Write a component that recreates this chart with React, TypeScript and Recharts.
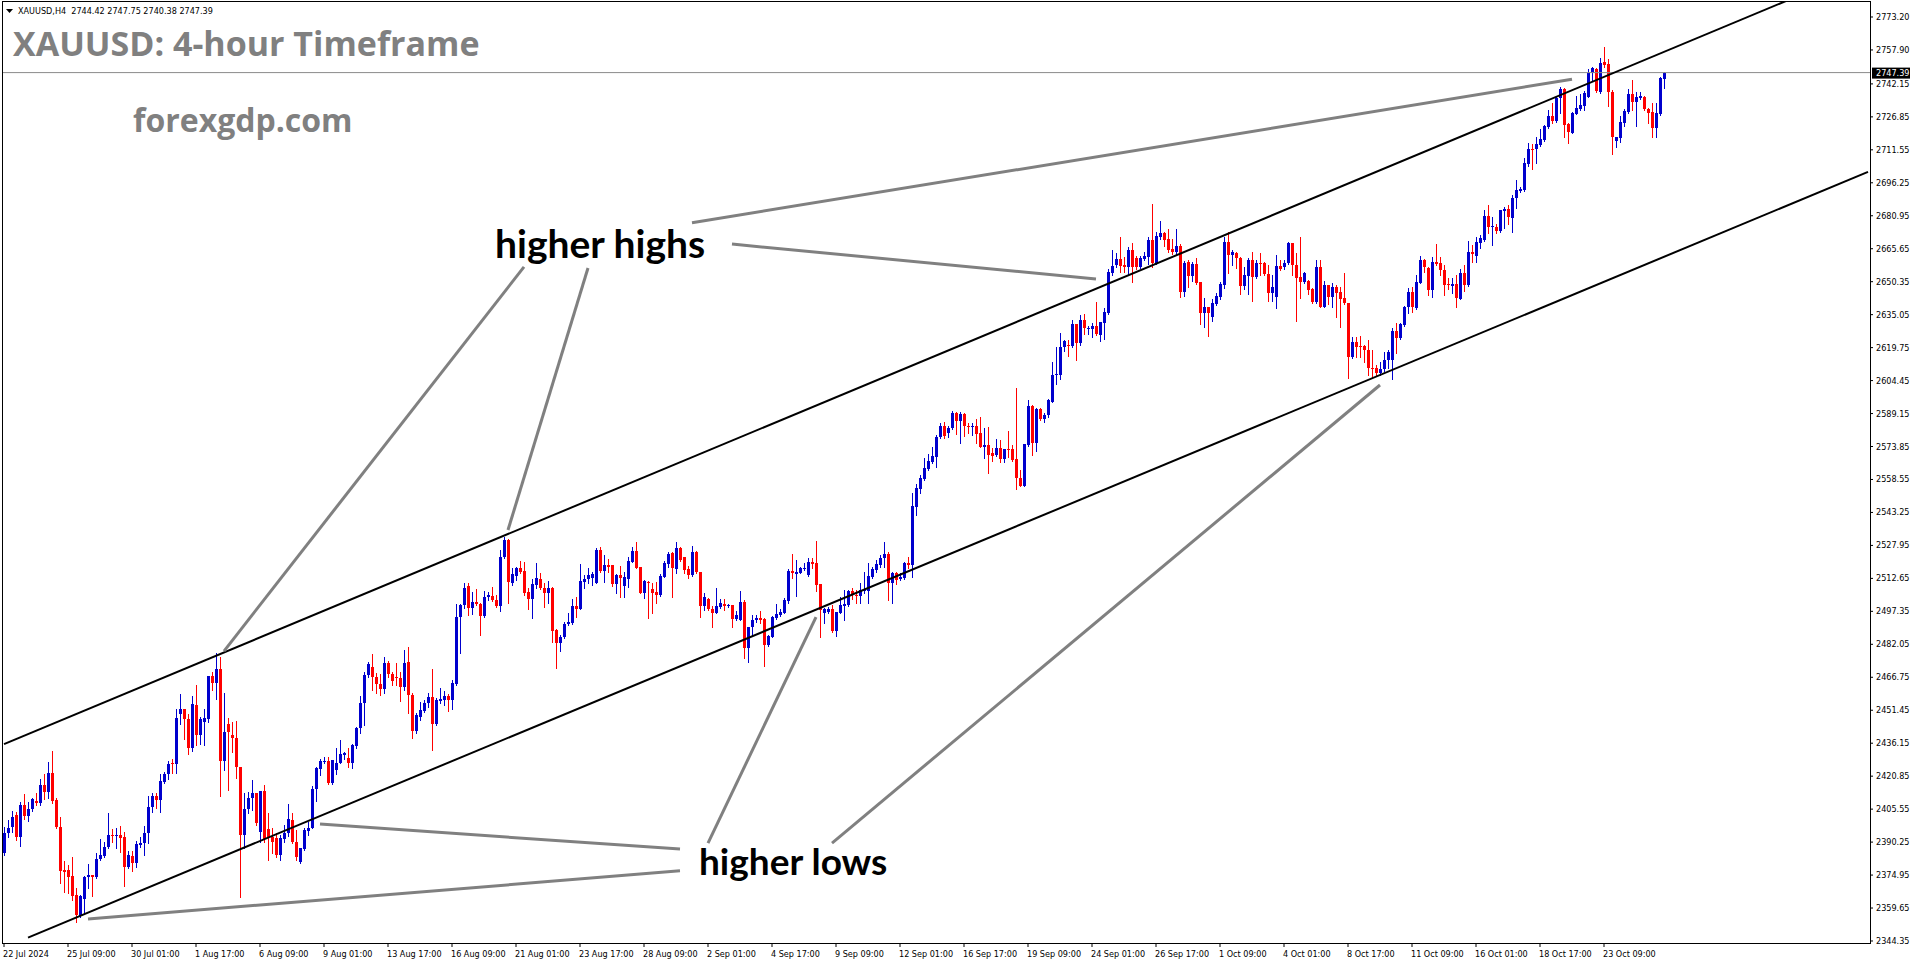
import React from 'react';
import { ComposedChart, Bar, XAxis, YAxis, ReferenceLine } from 'recharts';

// H4 candles, oldest first (22 Jul → 24 Oct 2024)
const OPENS = [
  2385.0, 2394.6, 2397.4, 2402.8, 2392.8, 2407.5, 2402.4, 2405.5, 2409.3, 2408.6,
  2416.8, 2413.7, 2422.2, 2409.8, 2397.1, 2377.3, 2377.3, 2374.5, 2365.7, 2356.0,
  2363.9, 2374.2, 2375.0, 2374.2, 2382.3, 2383.8, 2388.1, 2393.6, 2393.1, 2393.6,
  2392.8, 2378.9, 2383.8, 2380.4, 2388.9, 2389.7, 2394.3, 2406.4, 2411.7, 2409.8,
  2418.3, 2421.9, 2426.8, 2426.4, 2449.6, 2451.9, 2447.6, 2433.8, 2453.9, 2440.0,
  2446.2, 2447.2, 2467.4, 2464.3, 2470.5, 2428.1, 2445.1, 2440.0, 2438.4, 2425.0,
  2393.6, 2405.5, 2410.6, 2413.2, 2395.1, 2414.0, 2396.2, 2392.8, 2392.0, 2384.3,
  2391.7, 2394.3, 2400.5, 2390.5, 2381.2, 2386.9, 2395.6, 2396.7, 2414.8, 2424.0,
  2427.4, 2428.1, 2417.5, 2423.7, 2427.1, 2430.7, 2429.1, 2426.8, 2434.9, 2443.1,
  2454.7, 2467.8, 2471.7, 2467.1, 2463.5, 2461.2, 2473.5, 2468.3, 2467.1, 2466.3,
  2462.4, 2474.0, 2458.5, 2442.0, 2448.2, 2451.3, 2454.7, 2457.5, 2444.9, 2455.9,
  2456.2, 2458.1, 2456.1, 2463.7, 2494.9, 2500.3, 2509.1, 2498.8, 2501.9, 2500.8,
  2495.4, 2503.9, 2504.5, 2502.6, 2499.8, 2522.4, 2530.5, 2510.7, 2513.8, 2517.3,
  2516.1, 2506.5, 2503.1, 2509.6, 2512.4, 2508.0, 2506.0, 2508.0, 2488.7, 2482.8,
  2485.3, 2491.3, 2492.1, 2499.8, 2498.6, 2511.1, 2512.2, 2512.7, 2510.7, 2525.8,
  2516.1, 2518.9, 2518.9, 2510.0, 2514.2, 2509.1, 2512.4, 2520.4, 2525.5, 2518.1,
  2506.0, 2511.1, 2507.6, 2506.5, 2505.0, 2513.5, 2519.2, 2524.3, 2517.0, 2526.9,
  2522.4, 2516.9, 2514.2, 2525.1, 2515.8, 2499.8, 2503.1, 2498.3, 2496.4, 2499.5,
  2500.6, 2499.8, 2500.3, 2493.8, 2493.3, 2501.8, 2480.2, 2489.9, 2493.3, 2494.1,
  2493.8, 2481.7, 2485.6, 2494.4, 2495.7, 2496.7, 2502.3, 2516.1, 2514.7, 2515.3,
  2516.9, 2514.2, 2520.4, 2519.6, 2510.0, 2496.4, 2497.1, 2498.3, 2488.4, 2496.7,
  2500.0, 2500.3, 2506.9, 2504.9, 2504.5, 2506.9, 2506.9, 2513.1, 2516.5, 2518.9,
  2522.0, 2524.0, 2510.4, 2515.0, 2512.2, 2513.0, 2519.9, 2518.9, 2546.0, 2554.1,
  2558.8, 2563.3, 2566.7, 2569.1, 2578.1, 2583.4, 2580.0, 2582.3, 2589.6, 2585.7,
  2589.0, 2583.4, 2582.8, 2583.4, 2580.0, 2573.8, 2574.6, 2570.7, 2569.9, 2573.0,
  2568.1, 2572.9, 2572.7, 2567.9, 2559.4, 2555.5, 2574.6, 2592.7, 2575.3, 2591.1,
  2586.5, 2588.5, 2594.7, 2606.9, 2607.0, 2619.9, 2620.9, 2620.7, 2630.7, 2622.0,
  2632.6, 2628.5, 2628.4, 2629.9, 2625.6, 2631.3, 2636.0, 2654.6, 2658.1, 2660.7,
  2658.1, 2657.0, 2665.1, 2661.2, 2657.0, 2661.0, 2662.0, 2669.7, 2659.2, 2671.2,
  2673.1, 2670.0, 2665.5, 2664.3, 2666.9, 2645.7, 2659.6, 2653.0, 2658.6, 2650.4,
  2636.0, 2638.8, 2634.1, 2640.0, 2643.1, 2648.8, 2668.9, 2662.7, 2663.5, 2661.5,
  2648.4, 2653.0, 2660.4, 2652.7, 2659.2, 2659.2, 2653.9, 2645.3, 2643.1, 2657.6,
  2657.0, 2658.9, 2668.5, 2658.1, 2652.7, 2650.4, 2650.8, 2647.0, 2641.1, 2657.3,
  2638.8, 2648.8, 2643.1, 2648.0, 2645.7, 2642.6, 2640.6, 2615.2, 2622.4, 2620.5,
  2620.5, 2618.6, 2610.5, 2610.2, 2607.8, 2609.7, 2614.0, 2614.0, 2627.6, 2624.1,
  2630.3, 2638.5, 2645.7, 2638.0, 2649.9, 2660.4, 2656.6, 2646.5, 2659.7, 2658.9,
  2655.8, 2649.3, 2648.4, 2649.3, 2642.2, 2654.2, 2648.8, 2664.3, 2662.3, 2668.5,
  2669.7, 2680.8, 2675.6, 2675.9, 2674.0, 2683.3, 2683.9, 2680.1, 2689.0, 2692.5,
  2692.9, 2705.0, 2712.1, 2711.8, 2713.8, 2716.1, 2722.0, 2727.2, 2725.1, 2735.5,
  2739.6, 2723.5, 2719.5, 2728.2, 2730.4, 2731.9, 2736.2, 2747.4, 2748.9, 2738.5,
  2752.3, 2751.2, 2738.5, 2715.8, 2716.9, 2724.2, 2729.3, 2737.3, 2733.9, 2735.8,
  2736.2, 2730.5, 2729.3, 2721.5, 2728.0, 2744.42,
];

const HIGHS = [
  2397.4, 2400.5, 2404.7, 2404.4, 2409.0, 2412.6, 2409.0, 2410.9, 2412.9, 2419.4,
  2421.7, 2427.6, 2432.6, 2410.6, 2401.8, 2381.6, 2379.6, 2383.2, 2368.8, 2365.7,
  2374.5, 2380.1, 2375.0, 2385.0, 2391.6, 2390.5, 2403.9, 2396.2, 2396.7, 2397.7,
  2395.1, 2386.1, 2386.1, 2390.9, 2392.5, 2397.7, 2411.7, 2413.2, 2413.2, 2421.9,
  2423.0, 2428.1, 2428.7, 2451.9, 2459.0, 2451.9, 2449.6, 2458.1, 2463.2, 2448.5,
  2451.9, 2467.4, 2469.4, 2477.9, 2476.0, 2459.6, 2447.7, 2446.2, 2446.5, 2425.0,
  2413.2, 2413.7, 2419.1, 2413.2, 2414.0, 2416.8, 2403.6, 2396.7, 2394.3, 2393.6,
  2398.2, 2407.9, 2403.6, 2395.9, 2387.4, 2396.7, 2399.8, 2416.3, 2425.3, 2428.7,
  2429.6, 2429.6, 2428.4, 2433.8, 2437.7, 2432.2, 2433.8, 2435.8, 2443.5, 2458.1,
  2469.4, 2474.0, 2477.6, 2468.6, 2468.3, 2476.3, 2474.5, 2469.4, 2473.5, 2469.4,
  2479.4, 2480.7, 2459.3, 2450.0, 2455.4, 2456.2, 2459.6, 2470.6, 2457.0, 2461.6,
  2460.6, 2459.0, 2465.5, 2500.8, 2500.8, 2510.4, 2510.4, 2506.5, 2507.6, 2501.1,
  2507.0, 2506.5, 2508.5, 2505.0, 2525.8, 2532.0, 2530.8, 2517.3, 2518.1, 2520.7,
  2520.4, 2508.0, 2512.2, 2519.9, 2515.3, 2510.7, 2511.4, 2508.5, 2489.0, 2486.3,
  2492.6, 2496.4, 2502.9, 2504.2, 2519.2, 2514.2, 2517.6, 2515.8, 2526.6, 2527.4,
  2523.5, 2521.5, 2518.9, 2514.7, 2518.4, 2515.8, 2522.7, 2527.4, 2529.4, 2518.1,
  2511.9, 2511.4, 2510.7, 2511.1, 2514.7, 2520.7, 2524.7, 2525.1, 2529.4, 2527.4,
  2522.7, 2518.4, 2527.8, 2525.4, 2515.8, 2505.7, 2503.4, 2499.8, 2508.0, 2502.9,
  2503.1, 2500.8, 2500.3, 2497.7, 2506.9, 2502.6, 2490.2, 2495.7, 2495.7, 2497.7,
  2494.1, 2486.4, 2495.2, 2500.8, 2498.3, 2503.4, 2516.8, 2524.0, 2521.2, 2518.1,
  2519.9, 2522.3, 2522.3, 2530.0, 2510.0, 2498.8, 2499.2, 2500.3, 2497.2, 2504.2,
  2507.3, 2507.3, 2508.0, 2507.3, 2510.4, 2515.8, 2519.6, 2518.1, 2521.2, 2523.5,
  2529.4, 2524.7, 2515.8, 2515.8, 2515.0, 2520.4, 2522.7, 2552.1, 2556.3, 2560.6,
  2568.4, 2570.4, 2573.8, 2579.2, 2584.6, 2585.4, 2583.4, 2590.3, 2590.0, 2590.0,
  2589.6, 2584.6, 2584.9, 2586.5, 2587.4, 2582.3, 2582.8, 2573.0, 2577.2, 2576.9,
  2572.6, 2581.2, 2574.6, 2600.9, 2562.9, 2574.9, 2595.5, 2593.1, 2591.6, 2591.6,
  2589.3, 2595.9, 2613.2, 2620.2, 2626.4, 2623.3, 2623.3, 2632.6, 2630.7, 2634.9,
  2635.2, 2629.8, 2631.0, 2640.9, 2631.6, 2638.0, 2656.1, 2665.1, 2663.5, 2671.2,
  2662.0, 2666.6, 2668.5, 2662.3, 2662.3, 2664.3, 2671.2, 2686.4, 2673.6, 2678.5,
  2673.6, 2674.7, 2670.0, 2674.7, 2667.9, 2660.0, 2660.4, 2659.6, 2661.2, 2650.4,
  2642.6, 2638.8, 2642.2, 2645.0, 2650.4, 2671.3, 2673.6, 2665.1, 2664.0, 2662.0,
  2657.0, 2661.5, 2664.3, 2660.4, 2663.8, 2659.6, 2658.1, 2653.5, 2662.7, 2660.4,
  2660.4, 2668.9, 2668.5, 2663.5, 2671.3, 2655.0, 2651.1, 2647.3, 2660.4, 2660.4,
  2650.8, 2648.8, 2649.6, 2648.8, 2647.7, 2654.2, 2640.6, 2624.5, 2624.8, 2625.2,
  2621.0, 2623.3, 2618.6, 2611.7, 2613.2, 2617.9, 2618.6, 2628.7, 2631.0, 2631.0,
  2639.1, 2647.3, 2648.0, 2653.5, 2662.3, 2660.7, 2657.0, 2661.7, 2667.7, 2662.0,
  2658.1, 2651.9, 2651.9, 2653.5, 2656.1, 2658.1, 2669.4, 2667.4, 2671.3, 2672.0,
  2683.6, 2685.9, 2680.5, 2677.1, 2683.6, 2685.2, 2685.9, 2690.6, 2697.5, 2694.1,
  2707.6, 2714.9, 2714.3, 2717.7, 2721.1, 2723.1, 2730.0, 2733.1, 2736.2, 2740.9,
  2740.1, 2723.8, 2729.3, 2736.5, 2737.5, 2739.0, 2748.9, 2749.8, 2749.4, 2754.0,
  2759.4, 2753.6, 2739.3, 2717.7, 2727.2, 2730.4, 2739.6, 2743.9, 2738.5, 2738.5,
  2736.5, 2731.1, 2733.4, 2733.1, 2745.2, 2747.75,
];

const LOWS = [
  2384.3, 2392.8, 2395.1, 2391.3, 2388.4, 2400.8, 2400.2, 2404.9, 2407.5, 2407.5,
  2410.1, 2410.9, 2408.6, 2396.7, 2371.1, 2367.3, 2366.5, 2363.4, 2353.3, 2355.7,
  2357.2, 2368.8, 2365.3, 2373.4, 2382.0, 2383.2, 2387.4, 2390.5, 2387.4, 2385.8,
  2370.0, 2378.1, 2377.0, 2378.9, 2388.1, 2384.3, 2389.7, 2404.4, 2405.9, 2404.4,
  2417.5, 2419.4, 2422.2, 2422.2, 2445.1, 2438.0, 2431.0, 2432.6, 2435.3, 2435.6,
  2435.3, 2446.2, 2460.9, 2456.5, 2411.7, 2423.7, 2414.5, 2432.2, 2419.9, 2365.0,
  2387.4, 2403.6, 2405.2, 2398.2, 2390.5, 2390.5, 2382.0, 2385.1, 2383.5, 2382.0,
  2390.5, 2393.1, 2390.0, 2382.0, 2380.4, 2386.6, 2393.6, 2396.7, 2409.5, 2421.4,
  2426.8, 2417.2, 2417.2, 2421.9, 2426.8, 2428.7, 2425.0, 2424.5, 2434.1, 2440.8,
  2444.6, 2467.1, 2460.9, 2459.3, 2458.5, 2459.3, 2467.1, 2463.2, 2463.2, 2455.8,
  2460.9, 2450.0, 2438.4, 2441.1, 2447.0, 2450.8, 2453.1, 2433.0, 2444.6, 2455.0,
  2453.9, 2451.3, 2451.9, 2463.2, 2477.9, 2498.8, 2495.7, 2496.1, 2500.3, 2486.4,
  2494.9, 2502.6, 2502.2, 2499.5, 2497.7, 2522.0, 2501.4, 2509.6, 2511.9, 2515.3,
  2505.0, 2498.4, 2494.4, 2508.0, 2507.6, 2499.5, 2501.4, 2483.3, 2471.2, 2479.1,
  2485.1, 2491.0, 2491.5, 2494.9, 2498.3, 2508.3, 2510.4, 2509.6, 2510.4, 2515.8,
  2510.8, 2515.8, 2509.1, 2506.0, 2503.9, 2504.2, 2508.5, 2520.1, 2517.3, 2505.7,
  2503.7, 2494.1, 2496.7, 2501.1, 2504.6, 2513.2, 2518.1, 2504.2, 2515.0, 2520.9,
  2515.3, 2512.7, 2513.8, 2515.3, 2494.6, 2498.0, 2498.0, 2490.2, 2496.4, 2498.8,
  2498.0, 2499.2, 2490.2, 2493.3, 2493.3, 2475.9, 2474.0, 2486.4, 2492.6, 2492.1,
  2472.2, 2481.4, 2485.3, 2493.6, 2495.2, 2496.4, 2501.1, 2513.0, 2504.5, 2515.0,
  2516.5, 2513.8, 2517.3, 2506.9, 2485.6, 2491.8, 2496.4, 2487.9, 2486.1, 2496.4,
  2493.3, 2499.8, 2502.9, 2501.4, 2501.4, 2505.7, 2501.4, 2512.7, 2515.8, 2518.1,
  2518.1, 2502.6, 2501.4, 2510.0, 2511.9, 2512.2, 2517.3, 2513.5, 2542.1, 2552.1,
  2558.3, 2562.9, 2566.4, 2564.2, 2577.7, 2577.7, 2578.1, 2581.8, 2579.7, 2575.6,
  2578.7, 2580.0, 2579.2, 2575.3, 2573.8, 2568.7, 2561.4, 2567.3, 2569.5, 2566.8,
  2566.8, 2568.8, 2567.3, 2554.0, 2555.5, 2555.5, 2574.1, 2569.9, 2571.8, 2586.2,
  2585.4, 2587.7, 2594.7, 2602.9, 2605.2, 2618.3, 2616.0, 2620.2, 2614.0, 2621.0,
  2626.1, 2626.1, 2624.5, 2625.6, 2623.0, 2623.6, 2635.4, 2653.5, 2657.0, 2655.0,
  2655.0, 2653.9, 2650.4, 2656.1, 2656.6, 2660.4, 2658.6, 2657.0, 2658.6, 2670.0,
  2666.9, 2664.3, 2663.2, 2663.2, 2643.4, 2643.7, 2647.7, 2650.8, 2649.3, 2630.7,
  2629.5, 2625.1, 2632.1, 2639.5, 2642.2, 2647.3, 2654.2, 2658.1, 2656.6, 2644.6,
  2646.8, 2644.5, 2641.5, 2651.9, 2653.5, 2653.5, 2641.5, 2641.5, 2638.3, 2655.8,
  2656.1, 2658.6, 2653.5, 2632.3, 2642.6, 2649.9, 2644.6, 2640.6, 2640.6, 2638.5,
  2638.5, 2640.0, 2638.5, 2634.1, 2629.2, 2640.0, 2605.5, 2614.8, 2615.6, 2615.2,
  2613.2, 2607.0, 2606.3, 2607.0, 2607.0, 2609.1, 2610.2, 2605.0, 2617.1, 2623.6,
  2630.0, 2635.7, 2636.4, 2637.5, 2649.6, 2655.0, 2644.2, 2643.4, 2658.1, 2653.5,
  2644.2, 2646.8, 2645.0, 2638.5, 2642.2, 2646.2, 2648.4, 2659.6, 2659.6, 2665.9,
  2669.4, 2672.8, 2667.4, 2672.8, 2673.6, 2675.1, 2677.1, 2673.6, 2684.4, 2692.1,
  2692.6, 2704.1, 2702.5, 2705.3, 2713.3, 2715.8, 2721.5, 2724.2, 2724.6, 2728.5,
  2717.4, 2714.6, 2719.5, 2728.0, 2730.0, 2730.0, 2736.2, 2743.9, 2738.5, 2738.1,
  2750.2, 2731.9, 2709.6, 2712.7, 2715.3, 2722.6, 2728.8, 2730.0, 2722.6, 2735.0,
  2730.0, 2724.2, 2717.7, 2717.7, 2727.7, 2740.38,
];

const CLOSES = [
  2394.3, 2396.7, 2401.8, 2392.8, 2407.5, 2402.4, 2405.5, 2410.1, 2408.6, 2416.8,
  2413.7, 2422.2, 2409.3, 2397.1, 2377.0, 2376.6, 2374.2, 2365.3, 2356.4, 2365.3,
  2374.2, 2375.0, 2374.2, 2382.4, 2384.3, 2388.1, 2393.6, 2393.1, 2393.6, 2392.3,
  2378.9, 2384.3, 2380.4, 2389.4, 2390.0, 2394.3, 2406.4, 2411.7, 2409.8, 2418.6,
  2421.9, 2426.5, 2426.4, 2447.7, 2451.9, 2447.6, 2433.8, 2454.2, 2440.0, 2447.2,
  2448.0, 2467.4, 2464.3, 2470.5, 2428.1, 2441.5, 2441.5, 2438.4, 2425.0, 2393.6,
  2405.5, 2410.6, 2412.9, 2399.0, 2414.0, 2391.6, 2392.0, 2390.5, 2384.3, 2392.0,
  2394.3, 2400.8, 2390.5, 2383.2, 2387.4, 2395.9, 2396.7, 2414.8, 2424.5, 2428.1,
  2428.1, 2417.5, 2428.4, 2427.1, 2431.0, 2431.5, 2426.8, 2435.2, 2443.1, 2455.0,
  2467.8, 2472.9, 2466.7, 2463.5, 2461.2, 2473.5, 2468.3, 2465.2, 2466.3, 2462.4,
  2473.5, 2458.5, 2442.0, 2449.3, 2451.6, 2455.0, 2457.5, 2444.9, 2456.2, 2456.5,
  2458.1, 2456.1, 2464.3, 2494.9, 2500.3, 2508.0, 2498.8, 2501.9, 2500.8, 2495.4,
  2503.9, 2505.0, 2502.6, 2499.8, 2522.4, 2530.5, 2511.1, 2514.7, 2517.3, 2515.8,
  2506.0, 2503.1, 2510.0, 2512.7, 2508.0, 2506.0, 2508.0, 2488.4, 2482.8, 2485.6,
  2491.5, 2492.6, 2499.8, 2498.6, 2511.4, 2512.4, 2514.1, 2514.7, 2525.8, 2516.1,
  2518.9, 2518.1, 2510.0, 2514.2, 2512.7, 2513.5, 2520.9, 2525.5, 2517.6, 2506.0,
  2511.4, 2510.8, 2506.0, 2505.0, 2513.8, 2519.6, 2523.8, 2517.3, 2526.9, 2521.2,
  2516.5, 2514.2, 2525.1, 2515.5, 2499.8, 2504.2, 2498.3, 2496.7, 2499.8, 2501.1,
  2499.8, 2500.3, 2493.8, 2495.7, 2501.8, 2480.5, 2490.2, 2493.3, 2494.4, 2493.3,
  2481.7, 2485.9, 2494.6, 2496.1, 2496.9, 2502.6, 2516.1, 2515.3, 2515.5, 2517.3,
  2517.6, 2520.4, 2519.3, 2509.6, 2498.0, 2498.3, 2498.6, 2488.2, 2497.2, 2500.3,
  2500.8, 2506.8, 2504.9, 2504.5, 2507.3, 2507.7, 2513.8, 2516.8, 2519.2, 2522.0,
  2524.0, 2510.4, 2515.0, 2511.9, 2513.5, 2519.9, 2518.9, 2546.3, 2554.8, 2559.1,
  2563.7, 2567.1, 2569.5, 2578.1, 2583.4, 2578.7, 2582.6, 2589.6, 2585.7, 2589.0,
  2583.4, 2582.8, 2583.4, 2579.7, 2573.8, 2574.6, 2569.9, 2569.5, 2573.0, 2568.1,
  2572.6, 2572.6, 2567.6, 2559.4, 2555.5, 2574.9, 2592.7, 2575.3, 2591.1, 2586.5,
  2588.5, 2595.5, 2607.0, 2607.5, 2620.2, 2622.8, 2620.7, 2630.7, 2622.0, 2632.6,
  2628.7, 2629.0, 2629.9, 2625.9, 2631.6, 2636.1, 2655.0, 2657.6, 2660.7, 2657.6,
  2657.0, 2665.1, 2657.0, 2657.0, 2661.2, 2662.3, 2669.7, 2659.2, 2671.6, 2673.1,
  2669.7, 2665.1, 2664.3, 2666.9, 2645.7, 2658.9, 2653.0, 2658.6, 2649.9, 2636.0,
  2638.5, 2636.0, 2640.3, 2643.7, 2649.3, 2668.9, 2662.7, 2664.3, 2661.2, 2648.4,
  2653.5, 2660.4, 2652.7, 2659.2, 2658.6, 2653.9, 2645.3, 2647.7, 2657.6, 2656.1,
  2659.2, 2668.5, 2658.1, 2652.2, 2650.4, 2654.5, 2646.5, 2641.1, 2657.3, 2638.8,
  2648.8, 2643.1, 2648.0, 2645.3, 2642.2, 2640.6, 2615.2, 2622.4, 2620.2, 2620.2,
  2618.6, 2610.2, 2609.7, 2608.1, 2609.7, 2614.0, 2617.9, 2627.6, 2624.1, 2630.6,
  2638.8, 2645.7, 2638.5, 2650.4, 2660.4, 2657.0, 2646.5, 2659.7, 2658.6, 2655.8,
  2648.8, 2648.8, 2649.3, 2642.6, 2654.2, 2648.8, 2664.3, 2663.1, 2668.9, 2670.5,
  2680.8, 2675.6, 2676.2, 2674.0, 2683.6, 2683.9, 2680.2, 2689.0, 2692.9, 2693.4,
  2705.3, 2711.8, 2711.8, 2714.1, 2716.4, 2722.6, 2727.2, 2725.1, 2735.5, 2739.6,
  2723.1, 2720.0, 2728.5, 2730.8, 2732.4, 2737.8, 2747.4, 2749.4, 2739.0, 2752.0,
  2751.1, 2738.5, 2717.4, 2717.7, 2724.6, 2729.7, 2737.3, 2733.9, 2736.2, 2736.5,
  2730.4, 2728.8, 2721.5, 2728.8, 2744.7, 2747.39,
];

// the chart is shifted: empty bar slots remain on the right
const SLOT_COUNT = 467;

const DATE_SLOTS = [0, 16, 32, 48, 64, 80, 96, 112, 128, 144, 160, 176, 192, 208, 224, 240, 256, 272, 288, 304, 320, 336, 352, 368, 384, 400];
const DATE_LABELS = [
  '22 Jul 2024', '25 Jul 09:00', '30 Jul 01:00', '1 Aug 17:00', '6 Aug 09:00', '9 Aug 01:00',
  '13 Aug 17:00', '16 Aug 09:00', '21 Aug 01:00', '23 Aug 17:00', '28 Aug 09:00', '2 Sep 01:00',
  '4 Sep 17:00', '9 Sep 09:00', '12 Sep 01:00', '16 Sep 17:00', '19 Sep 09:00', '24 Sep 01:00',
  '26 Sep 17:00', '1 Oct 09:00', '4 Oct 01:00', '8 Oct 17:00', '11 Oct 09:00', '16 Oct 01:00',
  '18 Oct 17:00', '23 Oct 09:00',
];

const PRICE_TICKS = [
  2773.2, 2757.9, 2742.15, 2726.85, 2711.55, 2696.25, 2680.95, 2665.65, 2650.35, 2635.05,
  2619.75, 2604.45, 2589.15, 2573.85, 2558.55, 2543.25, 2527.95, 2512.65, 2497.35, 2482.05,
  2466.75, 2451.45, 2436.15, 2420.85, 2405.55, 2390.25, 2374.95, 2359.65, 2344.35,
];

const LAST_PRICE = 2747.39;
const HEADER = 'XAUUSD,H4  2744.42 2747.75 2740.38 2747.39';

// [slot, price] end points of the drawn trend channel
const CHANNEL_LINES = [
  [[0, 2435.7], [450, 2784.1]],
  [[6, 2345.95], [466, 2701.3]],
];

// [slot, price] end points of the pointer lines from the two captions
const POINTER_LINES = [
  [[172, 2677.7], [392, 2744.3]],
  [[182, 2667.8], [273, 2651.6]],
  [[130, 2657.2], [55, 2478.9]],
  [[146, 2656.7], [126, 2535.1]],
  [[169, 2387.0], [79, 2398.6]],
  [[169, 2376.9], [21, 2354.6]],
  [[176, 2389.8], [203, 2494.7]],
  [[207, 2389.8], [344, 2602.4]],
];

const BULL = '#0000cd';
const BEAR = '#ff0000';
const AXIS_FONT = '"DejaVu Sans Condensed", "DejaVu Sans", sans-serif';

const chartData = Array.from({ length: SLOT_COUNT }, (_, i) =>
  i < CLOSES.length
    ? { i, open: OPENS[i], high: HIGHS[i], low: LOWS[i], close: CLOSES[i], range: [LOWS[i], HIGHS[i]] }
    : { i }
);

const Candle = (props: any) => {
  const { x, y, width, height, payload } = props;
  if (!payload || payload.open == null) return null;
  const top = Math.min(y, y + height);
  const span = Math.abs(height);
  const spread = payload.high - payload.low;
  const toY = (v: number) => top + (spread > 0 ? ((payload.high - v) / spread) * span : 0);
  const color = payload.close >= payload.open ? BULL : BEAR;
  const cx = Math.round(x + width / 2);
  const yHigh = Math.round(toY(payload.high));
  const yLow = Math.round(toY(payload.low));
  const bodyTop = Math.round(toY(Math.max(payload.open, payload.close)));
  const bodyBottom = Math.round(toY(Math.min(payload.open, payload.close)));
  return (
    <g>
      <rect x={cx} y={yHigh} width={1} height={yLow - yHigh + 1} fill={color} />
      <rect x={cx - 1} y={bodyTop} width={3} height={Math.max(1, bodyBottom - bodyTop)} fill={color} />
    </g>
  );
};

const DateTick = ({ x, y, payload }: any) => (
  <text x={x - 1} y={y + 8} fontSize={9} fontFamily={AXIS_FONT} fill="#000" textAnchor="start">
    {DATE_LABELS[DATE_SLOTS.indexOf(payload.value)]}
  </text>
);

const PriceTick = ({ x, y, payload }: any) => (
  <text x={x} y={y + 3} fontSize={9} fontFamily={AXIS_FONT} fill="#000" textAnchor="start">
    {Number(payload.value).toFixed(2)}
  </text>
);

const PriceTag = (props: any) => {
  const vb = props.viewBox;
  if (!vb) return null;
  const right = vb.x + vb.width;
  return (
    <g>
      <rect x={right + 2} y={vb.y - 5} width={38} height={11} fill="#000" />
      <text x={right + 6} y={vb.y + 3.5} fontSize={9} fontFamily={AXIS_FONT} fill="#fff">
        {LAST_PRICE.toFixed(2)}
      </text>
    </g>
  );
};

export default function App() {
  return (
    <div style={{ position: 'absolute', left: 0, top: 0, width: 1916, height: 964, background: '#fff' }}>
      <ComposedChart
        width={1916}
        height={964}
        data={chartData}
        margin={{ top: 2, right: 0, bottom: 0, left: 2 }}
        barCategoryGap={0}
      >
        <XAxis
          dataKey="i"
          type="category"
          ticks={DATE_SLOTS}
          interval={0}
          height={21}
          axisLine={false}
          tickSize={4}
          tickLine={{ stroke: '#000' }}
          tick={<DateTick />}
        />
        <YAxis
          orientation="right"
          type="number"
          width={46}
          domain={[2343.42, 2780.16]}
          allowDataOverflow
          ticks={PRICE_TICKS}
          interval={0}
          axisLine={false}
          tickSize={3}
          tickMargin={3}
          tickLine={{ stroke: '#000' }}
          tick={<PriceTick />}
        />
        <ReferenceLine y={LAST_PRICE} stroke="#8a8a8a" strokeWidth={1} label={(p: any) => <PriceTag {...p} />} />
        <Bar dataKey={(d: any) => d.range} shape={<Candle />} isAnimationActive={false} />
        {CHANNEL_LINES.map((seg, k) => (
          <ReferenceLine
            key={`ch${k}`}
            segment={[{ x: seg[0][0], y: seg[0][1] }, { x: seg[1][0], y: seg[1][1] }]}
            stroke="#000"
            strokeWidth={2}
            ifOverflow="hidden"
          />
        ))}
        {POINTER_LINES.map((seg, k) => (
          <ReferenceLine
            key={`pt${k}`}
            segment={[{ x: seg[0][0], y: seg[0][1] }, { x: seg[1][0], y: seg[1][1] }]}
            stroke="#808080"
            strokeWidth={3}
            ifOverflow="hidden"
          />
        ))}
      </ComposedChart>
      <div
        style={{
          position: 'absolute', left: 2, top: 1, width: 1869, height: 943,
          border: '1px solid #000', boxSizing: 'border-box', pointerEvents: 'none',
        }}
      />
      <svg width={1916} height={964} style={{ position: 'absolute', left: 0, top: 0, pointerEvents: 'none' }}>
        <polygon points="6,9 13,9 9.5,13" fill="#000" />
        <text x={18} y={14} fontSize={9} fontFamily={AXIS_FONT} fill="#000" style={{ whiteSpace: 'pre' }}>
          {HEADER}
        </text>
        <text x={13} y={56} fontSize={34} fontWeight={700} fontFamily='"Open Sans", sans-serif' fill="#808080">
          XAUUSD: 4-hour Timeframe
        </text>
        <text x={133} y={132} fontSize={32} fontWeight={700} fontFamily='"Open Sans", sans-serif' fill="#808080">
          forexgdp.com
        </text>
        <text x={495} y={258} fontSize={39} fontWeight={700} fontFamily='Lato, sans-serif' fill="#000">
          higher highs
        </text>
        <text x={699} y={875} fontSize={37} fontWeight={700} fontFamily='Lato, sans-serif' fill="#000">
          higher lows
        </text>
      </svg>
    </div>
  );
}
